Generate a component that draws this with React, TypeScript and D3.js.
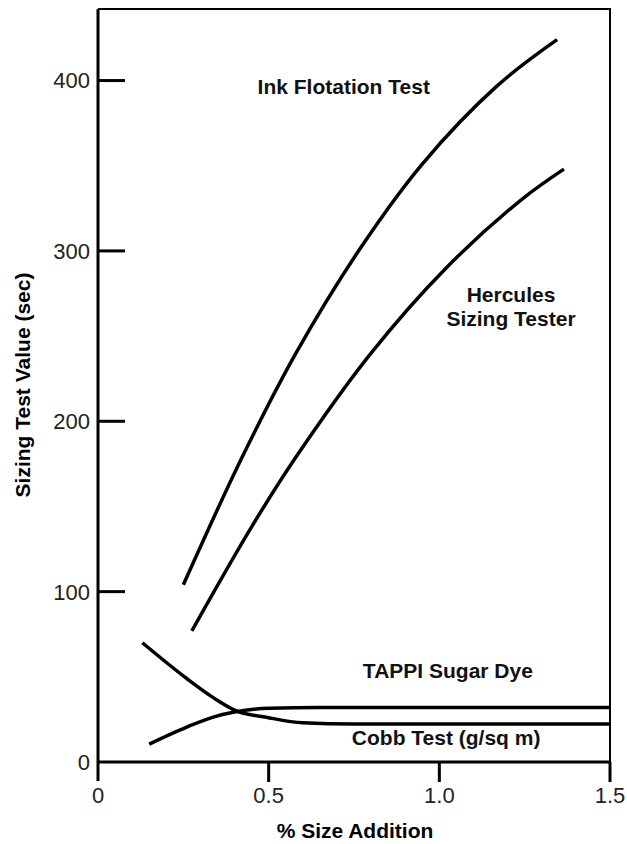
import React, { useEffect, useRef } from 'react';
import * as d3 from 'd3';

// values (x = % size addition, y = seconds)
const inkX = [0.25, 0.42, 0.58, 0.77, 0.95, 1.17, 1.345];
const inkY = [104, 178, 240, 302, 351, 397, 424];

const herculesX = [0.275, 0.45, 0.58, 0.8, 1.02, 1.24, 1.365];
const herculesY = [77, 138, 179, 240, 290, 330, 348];

const tappiX = [0.15, 0.26, 0.34, 0.4, 0.5, 0.65, 1.5];
const tappiY = [10.5, 20.5, 26.5, 29.3, 31.5, 32, 32];

const cobbX = [0.13, 0.26, 0.34, 0.4, 0.5, 0.6, 0.75, 1.5];
const cobbY = [70, 49, 37.5, 30.5, 26, 23, 22.3, 22.3];

const xTicks = [0, 0.5, 1.0, 1.5];
const yTicks = [0, 100, 200, 300, 400];

const labels = [
  { lines: ['Ink Flotation Test'], x: 0.72, y: 392 },
  { lines: ['Hercules', 'Sizing Tester'], x: 1.21, y: 270 },
  { lines: ['TAPPI Sugar Dye'], x: 1.025, y: 49.5 },
  { lines: ['Cobb Test (g/sq m)'], x: 1.02, y: 10 },
];

export default function App() {
  const svgRef = useRef<SVGSVGElement>(null);

  useEffect(() => {
    const width = 627;
    const height = 844;
    const font = '"Liberation Sans", Arial, sans-serif';

    const svg = d3.select(svgRef.current);
    svg.selectAll('*').remove();
    svg.attr('width', width).attr('height', height);

    const x = d3.scaleLinear().domain([0, 1.5]).range([98, 610]);
    const y = d3.scaleLinear().domain([0, 442]).range([762, 9]);

    // frame: thin top/right, heavy left/bottom
    svg.append('path')
      .attr('d', `M${x(0)},${y(442)}H${x(1.5)}V${y(0)}`)
      .attr('fill', 'none')
      .attr('stroke', '#000')
      .attr('stroke-width', 2);

    svg.append('line')
      .attr('x1', x(0)).attr('x2', x(0))
      .attr('y1', y(442)).attr('y2', y(0) + 19)
      .attr('stroke', '#000').attr('stroke-width', 3);

    svg.append('line')
      .attr('x1', x(0)).attr('x2', x(1.5))
      .attr('y1', y(0)).attr('y2', y(0))
      .attr('stroke', '#000').attr('stroke-width', 3);

    // x ticks point down, y ticks point in
    svg.selectAll('line.xtick')
      .data(xTicks.slice(1))
      .enter()
      .append('line')
      .attr('class', 'xtick')
      .attr('x1', d => x(d)).attr('x2', d => x(d))
      .attr('y1', y(0)).attr('y2', y(0) + 20)
      .attr('stroke', '#000').attr('stroke-width', 3);

    svg.selectAll('line.ytick')
      .data(yTicks.slice(1))
      .enter()
      .append('line')
      .attr('class', 'ytick')
      .attr('x1', x(0)).attr('x2', x(0) + 27)
      .attr('y1', d => y(d)).attr('y2', d => y(d))
      .attr('stroke', '#000').attr('stroke-width', 3);

    svg.selectAll('text.xlabel')
      .data(xTicks)
      .enter()
      .append('text')
      .attr('class', 'xlabel')
      .attr('x', d => x(d))
      .attr('y', y(0) + 41)
      .attr('text-anchor', 'middle')
      .attr('font-family', font)
      .attr('font-size', 22)
      .attr('fill', '#222')
      .text(d => (d === 0 ? '0' : d.toFixed(1)));

    svg.selectAll('text.ylabel')
      .data(yTicks)
      .enter()
      .append('text')
      .attr('class', 'ylabel')
      .attr('x', 90)
      .attr('y', d => y(d))
      .attr('dy', '0.36em')
      .attr('text-anchor', 'end')
      .attr('font-family', font)
      .attr('font-size', 22)
      .attr('fill', '#222')
      .text(d => d);

    // axis titles
    svg.append('text')
      .attr('x', 355)
      .attr('y', 838)
      .attr('text-anchor', 'middle')
      .attr('font-family', font)
      .attr('font-size', 21)
      .attr('font-weight', 'bold')
      .text('% Size Addition');

    svg.append('text')
      .attr('transform', 'translate(30,385) rotate(-90)')
      .attr('text-anchor', 'middle')
      .attr('font-family', font)
      .attr('font-size', 21)
      .attr('font-weight', 'bold')
      .text('Sizing Test Value (sec)');

    // curves: smooth spline for the rising ones, monotone for the flat tails
    const series = [
      { xs: inkX, ys: inkY, curve: d3.curveCatmullRom },
      { xs: herculesX, ys: herculesY, curve: d3.curveCatmullRom },
      { xs: tappiX, ys: tappiY, curve: d3.curveMonotoneX },
      { xs: cobbX, ys: cobbY, curve: d3.curveMonotoneX },
    ];

    svg.selectAll('path.curve')
      .data(series)
      .enter()
      .append('path')
      .attr('class', 'curve')
      .attr('d', s => d3.line<[number, number]>()
        .x(d => x(d[0]))
        .y(d => y(d[1]))
        .curve(s.curve)(s.xs.map((v, i) => [v, s.ys[i]] as [number, number])))
      .attr('fill', 'none')
      .attr('stroke', '#000')
      .attr('stroke-width', 3.5);

    // curve labels
    labels.forEach(l => {
      const t = svg.append('text')
        .attr('x', x(l.x))
        .attr('y', y(l.y))
        .attr('text-anchor', 'middle')
        .attr('font-family', font)
        .attr('font-size', 21)
        .attr('font-weight', 'bold')
        .attr('fill', '#111');
      l.lines.forEach((s, i) => {
        t.append('tspan')
          .attr('x', x(l.x))
          .attr('dy', i === 0 ? 0 : 24)
          .text(s);
      });
    });
  }, []);

  return (
    <svg ref={svgRef} style={{ position: 'absolute', left: 0, top: 0, background: '#fff' }}></svg>
  );
}
